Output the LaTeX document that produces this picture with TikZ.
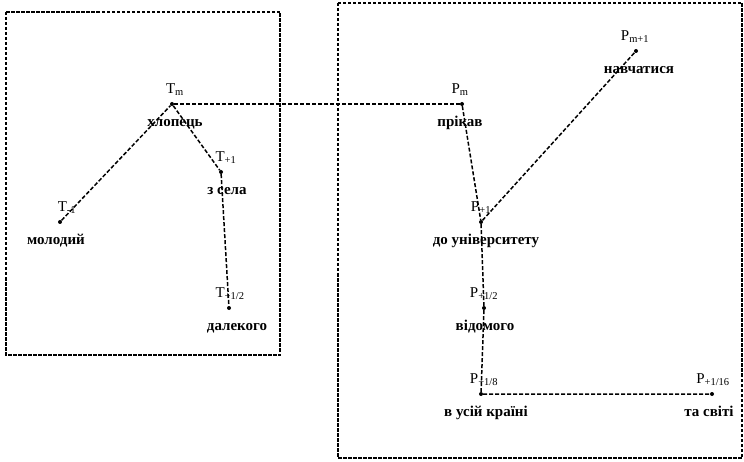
\documentclass[tikz,border=0pt]{standalone}
\usepackage{fontspec}
\setmainfont{Liberation Serif}
\usepackage{tikz}
\usetikzlibrary{positioning}

\begin{document}
\begin{tikzpicture}[x=1pt, y=-1pt,
  pt/.style={circle, fill=black, inner sep=0pt, minimum size=4pt},
  sym/.style={inner sep=0pt, text height=10pt, text depth=3pt, font=\fontsize{15}{17}\selectfont},
  wrd/.style={inner sep=0pt, text height=8pt, text depth=2pt, font=\fontsize{15}{17}\selectfont\bfseries},
  link/.style={draw, line width=1.5pt, dash pattern=on 4pt off 2pt},
  frame/.style={draw, line width=1.7pt, dash pattern=on 3.5pt off 1.5pt}]
\useasboundingbox (0,0) rectangle (744,462);
% frames
\draw[frame] (6,12) rectangle (280,355);
\draw[frame] (338,3) rectangle (742,458);
% left tree
\node[pt] (tm) at (172,104) {};
\node[pt] (tl) at (60,222) {};
\node[pt] (tr) at (221,172) {};
\node[pt] (th) at (229,308) {};
\node[sym, above=5pt of tm, xshift=3pt] {T\textsubscript{m}};
\node[sym, above=5pt of tl, xshift=7pt] {T\textsubscript{-1}};
\node[sym, above=5pt of tr, xshift=5pt] {T\textsubscript{+1}};
\node[sym, above=5pt of th, xshift=1pt] {T\textsubscript{+1/2}};
\node[wrd, below=12pt of tm, xshift=3pt] {хлопець};
\node[wrd, below=12pt of tl, xshift=-4pt] {молодий};
\node[wrd, below=12pt of tr, xshift=6pt] {з села};
\node[wrd, below=12pt of th, xshift=8pt] {далекого};
% right tree
\node[pt] (pm) at (462,104) {};
\node[pt] (pn) at (636,51) {};
\node[pt] (p1) at (481,222) {};
\node[pt] (ph) at (484,308) {};
\node[pt] (pe) at (481,394) {};
\node[pt] (ps) at (712,394) {};
\node[sym, above=5pt of pm, xshift=-2pt] {P\textsubscript{m}};
\node[sym, above=5pt of pn, xshift=-1pt] {P\textsubscript{m+1}};
\node[sym, above=5pt of p1, xshift=0pt] {P\textsubscript{+1}};
\node[sym, above=5pt of ph, xshift=0pt] {P\textsubscript{+1/2}};
\node[sym, above=5pt of pe, xshift=3pt] {P\textsubscript{+1/8}};
\node[sym, above=5pt of ps, xshift=1pt] {P\textsubscript{+1/16}};
\node[wrd, below=12pt of pm, xshift=-2pt] {прікав};
\node[wrd, below=12pt of pn, xshift=3pt] {навчатися};
\node[wrd, below=12pt of p1, xshift=5pt] {до університету};
\node[wrd, below=12pt of ph, xshift=1pt] {відомого};
\node[wrd, below=12pt of pe, xshift=5pt] {в усій країні};
\node[wrd, below=12pt of ps, xshift=-3pt] {та світі};
% links
\draw[link] (tl) -- (tm) -- (tr) -- (th);
\draw[link] (tm) -- (pm);
\draw[link] (pm) -- (p1) -- (pn);
\draw[link] (p1) -- (ph) -- (pe) -- (ps);
\end{tikzpicture}
\end{document}
